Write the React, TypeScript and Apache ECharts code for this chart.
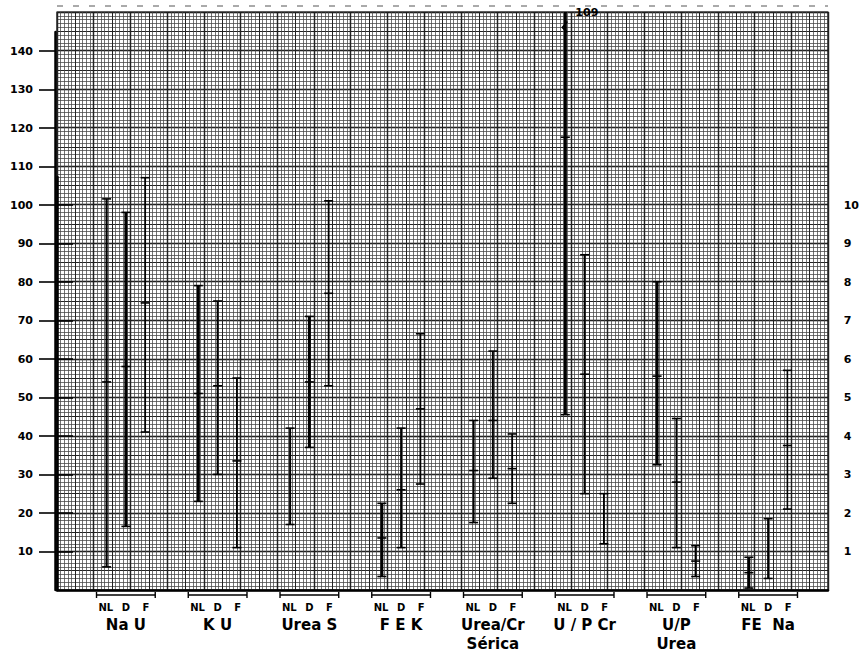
import React, { useEffect, useRef } from 'react';
import * as echarts from 'echarts';

// ---- data (left-axis units) ----
const categories = ['Na U', 'K U', 'Urea S', 'F E K', 'Urea/Cr\nSérica', 'U / P Cr', 'U/P\nUrea', 'FE  Na'];
const subLabels = ['NL', 'D', 'F'];

const nlMin = [6, 23, 17, 3.5, 17.5, 45.5, 32.5, 0.5];
const nlMean = [54, 51, null, 13.5, 31, 117.5, 55.5, 4.5];
const nlMax = [101.5, 79, 42, 22.5, 44, 150, 80, 8.5]; // U/P Cr NL runs off scale (annotated 109)

const dMin = [16.5, 30, 37, 11, 29, 25, 11, 3];
const dMean = [58, 53, 54, 26, 44, 56, 28, null];
const dMax = [98, 75, 71, 42, 62, 87, 44.5, 18.5];

const fMin = [41, 11, 53, 27.5, 22.5, 12, 3.5, 21];
const fMean = [74.5, 33.5, 77, 47, 31.5, null, 7.5, 37.5];
const fMax = [107, 55, 101, 66.5, 40.5, 25, 11.5, 57];

const offScaleGroup = 5;
const offScaleLabel = '109';

const leftTicks = [10, 20, 30, 40, 50, 60, 70, 80, 90, 100, 110, 120, 130, 140];
const rightTicks = [1, 2, 3, 4, 5, 6, 7, 8, 9, 10];

// ---- styles ----
const nlWidth = [2.2, 3, 2, 3, 2, 3, 3, 3];
const dWidth = [3, 2, 3, 2, 2, 2, 1.6, 2];
const fWidth = [1.8, 1.8, 1.8, 1.8, 1.8, 1.8, 2, 1.6];
const FONT = 'DejaVu Sans';

const Y_MAX = 150;

function makeRenderer(sub: number, mins: number[], means: (number | null)[], maxs: number[], widths: number[]) {
  return (params: any, api: any) => {
    const i = params.dataIndex;
    const band = api.size([1, 0])[0];
    const off = (sub - 1) * band * 0.21;
    const cc = api.coord([i, 0]);
    const cx = cc[0] + off;
    const yLo = api.coord([i, mins[i]])[1];
    const hi = Math.min(maxs[i], Y_MAX);
    const yHi = api.coord([i, hi])[1];
    const lw = widths[i];
    const cap = 4.5;
    const st = { stroke: '#000', lineWidth: lw };
    const cs = { stroke: '#000', lineWidth: 1.6 };
    const children: any[] = [
      { type: 'line', shape: { x1: cx, y1: yLo, x2: cx, y2: yHi }, style: st },
      { type: 'line', shape: { x1: cx - cap, y1: yLo, x2: cx + cap, y2: yLo }, style: cs },
    ];
    if (maxs[i] < Y_MAX) {
      children.push({ type: 'line', shape: { x1: cx - cap, y1: yHi, x2: cx + cap, y2: yHi }, style: cs });
    }
    const m = means[i];
    if (m !== null && m !== undefined) {
      const ym = api.coord([i, m])[1];
      children.push({ type: 'line', shape: { x1: cx - cap, y1: ym, x2: cx + cap, y2: ym }, style: cs });
    }
    if (sub === 0) {
      // group bracket below the plot
      const gx = cc[0];
      const w = band * 0.32;
      const y = cc[1] + 5;
      const bs = { stroke: '#000', lineWidth: 1.4 };
      children.push({ type: 'line', shape: { x1: gx - w, y1: y, x2: gx + w, y2: y }, style: bs });
      children.push({ type: 'line', shape: { x1: gx - w, y1: y - 3, x2: gx - w, y2: y + 3 }, style: bs });
      children.push({ type: 'line', shape: { x1: gx + w, y1: y - 3, x2: gx + w, y2: y + 3 }, style: bs });
    }
    if (sub === 0 && i === offScaleGroup) {
      const yb = api.coord([i, 146])[1];
      children.push({
        type: 'polyline',
        shape: { points: [[cx + 2, yb - 6], [cx - 3, yb], [cx + 2, yb + 5]] },
        style: { stroke: '#000', fill: 'none', lineWidth: 1.6 },
      });
      children.push({
        type: 'text',
        x: cx + 10,
        y: yHi,
        style: { text: offScaleLabel, fontSize: 11, fontWeight: 'bold', fontFamily: FONT, fill: '#000', verticalAlign: 'middle', align: 'left' },
      });
    }
    return { type: 'group', children };
  };
}

const hiddenAxis = {
  axisLabel: { show: false },
  axisTick: { show: false },
  axisLine: { show: false },
  splitLine: { show: false },
};

export default function App() {
  const ref = useRef<HTMLDivElement>(null);
  useEffect(() => {
    if (!ref.current) return;
    const chart = echarts.init(ref.current, null, { renderer: 'svg' });
    const paperMajor = { show: true, lineStyle: { color: '#000', width: 1.4 } };
    const paperMinor = { show: true, lineStyle: { color: '#444', width: 0.75 } };
    const paperMid = { show: true, lineStyle: { color: '#222', width: 1 } };
    const option: any = {
      animation: false,
      backgroundColor: '#fff',
      grid: [
        { left: 57, right: 34, top: 12, bottom: 62, show: true, borderColor: '#000', borderWidth: 1.2 },
        { left: 55, right: 34, top: 32, bottom: 62 },
        { left: 57, right: 33, top: 177, bottom: 62 },
        { left: 80, right: 48, top: 12, bottom: 62 },
      ],
      xAxis: [
        {
          type: 'value', gridIndex: 0, min: 0, max: 210, interval: 10,
          axisLabel: { show: false }, axisTick: { show: false },
          axisLine: { show: true, lineStyle: { color: '#000', width: 2.5 } },
          splitLine: paperMajor,
          minorTick: { show: false, splitNumber: 10 },
          minorSplitLine: paperMinor,
        },
        { type: 'value', gridIndex: 0, min: 0, max: 210, interval: 5, position: 'top', ...hiddenAxis, splitLine: paperMid },
        { type: 'value', gridIndex: 1, min: 0, max: 1, ...hiddenAxis },
        { type: 'value', gridIndex: 2, min: 0, max: 1, ...hiddenAxis },
        {
          type: 'category', gridIndex: 3, data: categories,
          axisLine: { show: false }, axisTick: { show: false }, splitLine: { show: false },
          axisLabel: {
            interval: 0,
            margin: 9,
            formatter: (v: string) =>
              `{n|${subLabels[0]}}{d|${subLabels[1]}}{f|${subLabels[2]}}\n` +
              v.split('\n').map((s) => `{b|${s}}`).join('\n'),
            rich: {
              n: { fontSize: 10, fontWeight: 'bold', fontFamily: FONT, color: '#000', width: 20, align: 'center', lineHeight: 16 },
              d: { fontSize: 10, fontWeight: 'bold', fontFamily: FONT, color: '#000', width: 20, align: 'center', lineHeight: 16 },
              f: { fontSize: 10, fontWeight: 'bold', fontFamily: FONT, color: '#000', width: 20, align: 'center', lineHeight: 16 },
              b: { fontSize: 15, fontWeight: 'bold', fontFamily: FONT, color: '#000', lineHeight: 19 },
            },
          },
        },
      ],
      yAxis: [
        {
          type: 'value', gridIndex: 0, min: 0, max: Y_MAX, interval: 10,
          axisLabel: { show: false }, axisTick: { show: false }, axisLine: { show: false },
          splitLine: paperMajor,
          minorTick: { show: false, splitNumber: 10 },
          minorSplitLine: paperMinor,
        },
        { type: 'value', gridIndex: 0, min: 0, max: Y_MAX, interval: 5, position: 'right', ...hiddenAxis, splitLine: paperMid },
        {
          type: 'value', gridIndex: 1, min: 0, max: 145, position: 'left',
          axisLine: { show: true, lineStyle: { color: '#000', width: 2.5 } },
          axisTick: { show: true, length: 16, lineStyle: { color: '#000', width: 1.6 }, customValues: leftTicks },
          axisLabel: { margin: 22, fontSize: 11, fontWeight: 'bold', fontFamily: FONT, color: '#000', customValues: leftTicks },
          splitLine: { show: false },
        },
        {
          type: 'value', gridIndex: 2, min: 0, max: 10.73, position: 'right',
          axisLine: { show: true, lineStyle: { color: '#000', width: 2.5 } },
          axisTick: { show: true, length: 16, lineStyle: { color: '#000', width: 1.6 }, customValues: rightTicks },
          axisLabel: { margin: 21, fontSize: 11, fontWeight: 'bold', fontFamily: FONT, color: '#000', customValues: rightTicks },
          splitLine: { show: false },
        },
        { type: 'value', gridIndex: 3, min: 0, max: Y_MAX, ...hiddenAxis },
      ],
      graphic: [
        {
          type: 'line', shape: { x1: 57, y1: 6, x2: 828, y2: 6 },
          style: { stroke: '#555', lineWidth: 1, lineDash: [6, 10] }, silent: true,
        },
      ],
      series: [
        {
          type: 'custom', name: 'NL', xAxisIndex: 4, yAxisIndex: 4, z: 10, clip: false,
          data: categories.map((_, i) => [i, nlMin[i], nlMax[i]]),
          renderItem: makeRenderer(0, nlMin, nlMean, nlMax, nlWidth),
        },
        {
          type: 'custom', name: 'D', xAxisIndex: 4, yAxisIndex: 4, z: 10, clip: false,
          data: categories.map((_, i) => [i, dMin[i], dMax[i]]),
          renderItem: makeRenderer(1, dMin, dMean, dMax, dWidth),
        },
        {
          type: 'custom', name: 'F', xAxisIndex: 4, yAxisIndex: 4, z: 10, clip: false,
          data: categories.map((_, i) => [i, fMin[i], fMax[i]]),
          renderItem: makeRenderer(2, fMin, fMean, fMax, fWidth),
        },
      ],
    };
    chart.setOption(option);
    return () => chart.dispose();
  }, []);
  return <div ref={ref} style={{ position: 'fixed', left: 0, top: 0, width: 862, height: 652 }} />;
}
